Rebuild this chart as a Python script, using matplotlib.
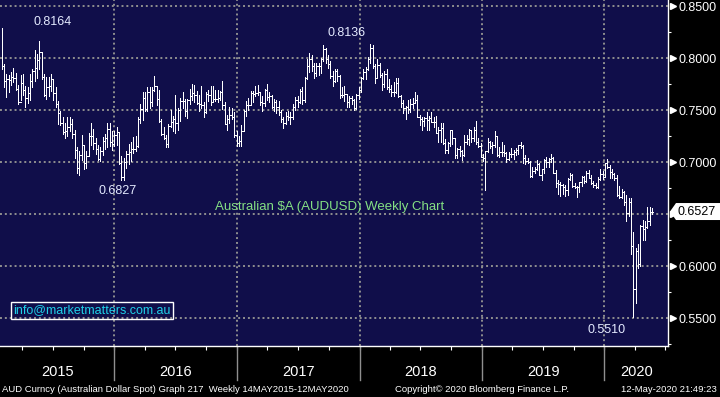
import matplotlib
matplotlib.use('Agg')
import matplotlib.pyplot as plt
import numpy as np
import pandas as pd
from matplotlib.collections import LineCollection
from matplotlib.patches import Polygon

# weekly AUDUSD bars, first bar ends 23 Jan 2015
first_week = '2015-01-23'

highs = [
    .8290, .7950, .7850, .7840, .7870, .7910, .7860, .7740, .7840, .7850,
    .7730, .7720, .7850, .7900, .8080, .8040, .8164, .8060, .7850, .7820,
    .7820, .7850, .7800, .7720, .7590, .7490, .7440, .7380, .7440, .7440,
    .7420, .7310, .7150, .7110, .7260, .7160, .7110, .7280, .7380, .7320,
    .7230, .7170, .7150, .7240, .7270, .7380, .7380, .7300, .7300, .7340,
    .7280, .7060, .7040, .7110, .7180, .7200, .7240, .7250, .7440, .7560,
    .7680, .7680, .7720, .7720, .7720, .7835, .7720, .7700, .7420, .7340,
    .7260, .7370, .7500, .7450, .7650, .7520, .7620, .7680, .7610, .7610,
    .7710, .7758, .7740, .7690, .7650, .7730, .7580, .7680, .7700, .7730,
    .7730, .7700, .7700, .7690, .7780, .7580, .7460, .7530, .7520, .7480,
    .7300, .7250, .7360, .7500, .7590, .7620, .7690, .7690, .7730, .7740,
    .7680, .7640, .7710, .7750, .7680, .7650, .7610, .7600, .7590, .7500,
    .7440, .7480, .7490, .7480, .7560, .7630, .7640, .7710, .7720, .7820,
    .7990, .8050, .8030, .7960, .7960, .7960, .8000, .8125, .8100, .8030,
    .7970, .7880, .7900, .7900, .7840, .7720, .7730, .7660, .7640, .7640,
    .7610, .7660, .7720, .7820, .7900, .7920, .8010, .8136, .8130, .7950,
    .7990, .7960, .7860, .7880, .7900, .7800, .7740, .7770, .7810, .7813,
    .7650, .7600, .7540, .7600, .7610, .7620, .7677, .7650, .7460, .7440,
    .7440, .7480, .7450, .7480, .7440, .7450, .7340, .7380, .7380, .7220,
    .7200, .7310, .7310, .7230, .7140, .7160, .7120, .7260, .7260, .7320,
    .7310, .7340, .7394, .7230, .7190, .7080, .7110, .7230, .7210, .7200,
    .7300, .7250, .7150, .7200, .7170, .7100, .7100, .7140, .7120, .7140,
    .7170, .7200, .7170, .7070, .7040, .7010, .6960, .6960, .7020, .6990,
    .6940, .7030, .7050, .7040, .7082, .7050, .6930, .6830, .6810, .6790,
    .6780, .6850, .6900, .6890, .6800, .6770, .6810, .6870, .6870, .6920,
    .6930, .6880, .6820, .6800, .6860, .6940, .6920, .6990, .7032, .6970,
    .6940, .6900, .6880, .6770, .6740, .6720, .6690, .6660, .6660, .6330,
    .6180, .6210, .6400, .6450, .6440, .6570, .6570, .6560,
]

lows = [
    .7900, .7720, .7630, .7680, .7740, .7770, .7700, .7560, .7600, .7650,
    .7530, .7570, .7600, .7720, .7780, .7810, .7900, .7800, .7640, .7610,
    .7640, .7690, .7600, .7530, .7370, .7360, .7270, .7230, .7250, .7300,
    .7230, .7040, .6900, .6880, .7020, .6940, .6950, .7060, .7170, .7130,
    .7080, .7020, .7010, .7070, .7130, .7150, .7160, .7120, .7160, .7170,
    .6980, .6827, .6830, .6950, .6980, .7010, .7090, .7110, .7150, .7380,
    .7410, .7490, .7490, .7520, .7540, .7690, .7550, .7390, .7260, .7220,
    .7145, .7150, .7340, .7300, .7280, .7310, .7400, .7520, .7450, .7430,
    .7560, .7600, .7580, .7560, .7490, .7520, .7440, .7470, .7590, .7550,
    .7580, .7590, .7580, .7600, .7510, .7370, .7310, .7380, .7420, .7240,
    .7160, .7160, .7160, .7300, .7450, .7500, .7550, .7580, .7640, .7650,
    .7550, .7490, .7540, .7600, .7580, .7520, .7490, .7470, .7460, .7390,
    .7329, .7370, .7410, .7370, .7420, .7500, .7530, .7570, .7560, .7580,
    .7800, .7870, .7880, .7810, .7830, .7840, .7860, .7970, .7960, .7910,
    .7810, .7730, .7770, .7780, .7620, .7630, .7590, .7530, .7530, .7560,
    .7501, .7510, .7610, .7680, .7800, .7800, .7890, .7960, .7910, .7760,
    .7810, .7820, .7700, .7720, .7710, .7680, .7640, .7640, .7670, .7630,
    .7530, .7470, .7413, .7470, .7480, .7520, .7570, .7440, .7360, .7310,
    .7350, .7310, .7310, .7390, .7340, .7280, .7200, .7200, .7180, .7090,
    .7090, .7160, .7180, .7040, .7040, .7060, .7021, .7060, .7180, .7170,
    .7200, .7210, .7180, .7150, .7050, .7010, .6734, .7100, .7140, .7090,
    .7150, .7060, .7050, .7060, .7060, .7000, .7020, .7050, .7030, .7070,
    .7080, .7140, .6990, .6980, .6990, .6860, .6860, .6900, .6930, .6880,
    .6830, .6900, .6960, .6960, .7000, .6900, .6760, .6700, .6680, .6700,
    .6677, .6690, .6830, .6760, .6750, .6670, .6710, .6770, .6800, .6810,
    .6850, .6790, .6760, .6750, .6750, .6830, .6840, .6860, .6950, .6850,
    .6850, .6830, .6680, .6660, .6660, .6590, .6433, .6480, .6120, .5510,
    .5650, .5980, .6000, .6250, .6250, .6370, .6400, .6500,
]

closes = [
    .7930, .7780, .7800, .7790, .7820, .7810, .7710, .7580, .7760, .7700,
    .7620, .7670, .7780, .7880, .7910, .7980, .8060, .7820, .7650, .7720,
    .7730, .7800, .7670, .7560, .7470, .7380, .7290, .7300, .7340, .7370,
    .7270, .7120, .6950, .7070, .7170, .6990, .7060, .7250, .7250, .7190,
    .7130, .7030, .7110, .7210, .7230, .7320, .7200, .7180, .7260, .7290,
    .6990, .6860, .7000, .7080, .7100, .7130, .7130, .7160, .7420, .7510,
    .7620, .7510, .7680, .7580, .7700, .7730, .7610, .7400, .7270, .7230,
    .7180, .7350, .7390, .7420, .7380, .7500, .7590, .7590, .7490, .7600,
    .7640, .7670, .7650, .7570, .7560, .7550, .7480, .7660, .7650, .7580,
    .7610, .7610, .7620, .7680, .7550, .7370, .7420, .7460, .7440, .7260,
    .7190, .7210, .7300, .7490, .7550, .7550, .7670, .7660, .7670, .7680,
    .7580, .7570, .7700, .7630, .7640, .7530, .7580, .7530, .7480, .7420,
    .7380, .7450, .7440, .7440, .7530, .7600, .7580, .7690, .7600, .7810,
    .7930, .7990, .7930, .7860, .7930, .7930, .7990, .8090, .7990, .7950,
    .7830, .7780, .7880, .7830, .7650, .7650, .7660, .7580, .7620, .7600,
    .7520, .7650, .7700, .7810, .7870, .7900, .7990, .8100, .7930, .7810,
    .7940, .7840, .7750, .7850, .7720, .7710, .7680, .7680, .7760, .7640,
    .7570, .7520, .7530, .7510, .7560, .7570, .7600, .7440, .7420, .7400,
    .7430, .7410, .7430, .7390, .7390, .7280, .7310, .7330, .7190, .7120,
    .7190, .7310, .7230, .7070, .7130, .7110, .7070, .7200, .7220, .7310,
    .7230, .7310, .7200, .7160, .7050, .7040, .7110, .7200, .7160, .7170,
    .7250, .7070, .7100, .7100, .7090, .7030, .7080, .7080, .7100, .7120,
    .7170, .7160, .7040, .7010, .7000, .6870, .6920, .6940, .6980, .6880,
    .6940, .7020, .7000, .7030, .7040, .6900, .6800, .6790, .6780, .6760,
    .6730, .6840, .6880, .6770, .6760, .6760, .6810, .6860, .6820, .6900,
    .6850, .6800, .6780, .6760, .6840, .6890, .6860, .6990, .6960, .6910,
    .6890, .6850, .6690, .6670, .6710, .6620, .6510, .6620, .6200, .5780,
    .6150, .6020, .6390, .6360, .6380, .6440, .6520, .6527,
]

assert len(highs) == len(lows) == len(closes)

years = ['2015', '2016', '2017', '2018', '2019', '2020']
price_ticks = [0.55, 0.60, 0.65, 0.70, 0.75, 0.80, 0.85]
minor_ticks = [0.525, 0.575, 0.625, 0.675, 0.725, 0.775, 0.825]

title = 'Australian $A (AUDUSD) Weekly Chart'
email = 'info@marketmatters.com.au'
foot_left = 'AUD Curncy (Australian Dollar Spot) Graph 217  Weekly 14MAY2015-12MAY2020'
foot_mid = 'Copyright\u00a9 2020 Bloomberg Finance L.P.'
foot_right = '12-May-2020 21:49:23'

navy = '#100e4a'
gridc = '#8f8f8f'
labc = '#e4eaff'
sans = ['Liberation Sans', 'DejaVu Sans']
plt.rcParams['font.family'] = sans

weeks = pd.date_range(first_week, periods=len(closes), freq='7D')
n = len(closes)
idx = np.arange(n)
opens = [np.nan] + closes[:-1]


def date_idx(d):
    # bloomberg puts its date markers on the bar of the week before
    return (pd.Timestamp(d) - weeks[0]).days / 7.0 - 1


W, H = 668, 346
fig = plt.figure(figsize=(7.2, 3.97), dpi=100, facecolor='black')
ax = fig.add_axes([0, 51 / 397, W / 720, H / 397])
ax.set_facecolor(navy)

ylo, yhi = 0.5234, 0.8561
xlo, xhi = -0.74, 283.8
ax.set_xlim(xlo, xhi)
ax.set_ylim(ylo, yhi)

# OHLC bars
segs = []
tk = 0.45
for i in idx:
    segs.append([(i, lows[i]), (i, highs[i])])
    if not np.isnan(opens[i]):
        segs.append([(i - tk, opens[i]), (i, opens[i])])
    segs.append([(i, closes[i]), (i + tk, closes[i])])
ax.add_collection(LineCollection(segs, colors='white', linewidths=0.7,
                                 antialiaseds=False, zorder=3))

# grid
c = closes[-1]
ax.set_yticks(price_ticks)
ax.set_yticklabels(['' if abs(v - c) < 0.01 else f'{v:.4f}' for v in price_ticks])
ax.set_yticks(minor_ticks, minor=True)
ax.grid(axis='y', which='major', color=gridc, linestyle=(0, (1, 1.5)), lw=1.4)
seps = [date_idx(f'{y}-01-01') for y in years[1:]]
for s in seps:
    ax.axvline(s, color=gridc, linestyle=(0, (1, 1.5)), lw=1.4, zorder=1)

# right axis
ax.yaxis.tick_right()
ax.tick_params(axis='y', which='major', length=0, pad=7.5, labelcolor='white', labelsize=9)
ax.tick_params(axis='y', which='minor', length=2.5, color='white', width=0.8)
ax.plot(np.full(len(price_ticks), 1 + 5 / W), price_ticks, ls='none', marker='>', ms=5,
        color='white', transform=ax.get_yaxis_transform(), clip_on=False, zorder=4)

# bottom axis: quarter ticks
qticks = [date_idx(d) for d in pd.date_range('2015-04-01', '2020-07-01', freq='QS')]
ax.set_xticks(qticks)
ax.set_xticklabels([])
ax.tick_params(axis='x', length=3, color='white', width=0.8)

for sp in ['top', 'left']:
    ax.spines[sp].set_visible(False)
for sp in ['bottom', 'right']:
    ax.spines[sp].set_color('white')
    ax.spines[sp].set_linewidth(1)

xt = ax.get_xaxis_transform()
for s in seps:
    ax.plot([s, s], [0, -34 / H], color=gridc, lw=1, transform=xt, clip_on=False)
bounds = [xlo] + seps + [xhi]
for k, y in enumerate(years):
    ax.text((bounds[k] + bounds[k + 1]) / 2, -26 / H, y, transform=xt, color='white',
            ha='center', va='center', fontsize=10.5)

# extreme labels
i_hi1 = 5 + int(np.argmax(highs[5:60]))
i_lo1 = int(np.argmin(lows[:100]))
i_hi2 = 140 + int(np.argmax(highs[140:200]))
i_lo2 = int(np.argmin(lows))
for i, v, off in [(i_hi1, highs[i_hi1], (13, 19)), (i_lo1, lows[i_lo1], (-4, -11)),
                  (i_hi2, highs[i_hi2], (-24, 11)), (i_lo2, lows[i_lo2], (-27, -13))]:
    ax.annotate(f'{v:.4f}', xy=(i, v), xytext=off, textcoords='offset pixels',
                ha='center', va='center', color=labc, fontsize=9)

# last price tag
yt = ax.get_yaxis_transform()
h = 8.5 * (yhi - ylo) / H
tag = Polygon([(670 / W, c), (676 / W, c + h), (720 / W, c + h), (720 / W, c - h), (676 / W, c - h)],
              closed=True, transform=yt, facecolor='white', edgecolor='none',
              clip_on=False, zorder=5)
ax.add_patch(tag)
ax.text(677 / W, c, f'{c:.4f}', transform=yt, color='black', ha='left', va='center',
        fontsize=9, zorder=6, clip_on=False)

# texts inside plot
ax.text(330 / W, 1 - 207 / H, title, transform=ax.transAxes, color='#84e084',
        ha='center', va='center', fontsize=9.5)
ax.text(13 / W, 1 - 310 / H, email, transform=ax.transAxes, color='#1fd0e8',
        ha='left', va='center', fontsize=9,
        bbox=dict(boxstyle='square,pad=0.2', facecolor='none', edgecolor='white', lw=1))

# footer
fy = 1 - 390 / 397
fig.text(2 / 720, fy, foot_left, color='white', ha='left', va='center', fontsize=6.8)
fig.text(482 / 720, fy, foot_mid, color='white', ha='center', va='center', fontsize=6.8)
fig.text(717 / 720, fy, foot_right, color='white', ha='right', va='center', fontsize=6.8)

fig.savefig('out.png', dpi=100, facecolor='black')
